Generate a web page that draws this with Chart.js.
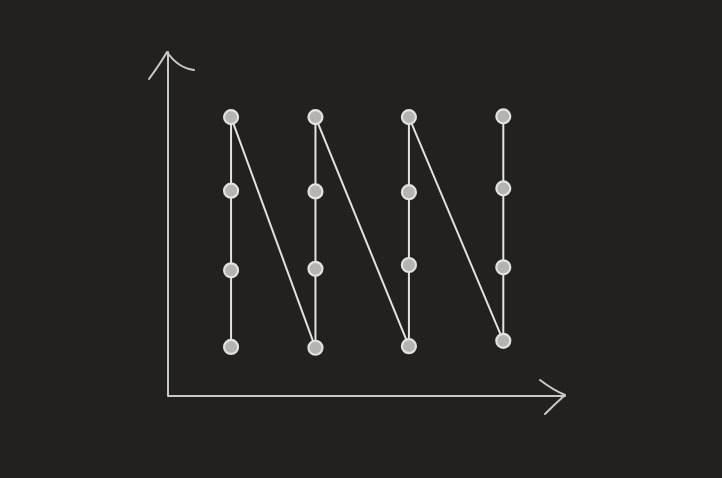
<!DOCTYPE html>
<html>
<head>
<meta charset="utf-8">
<script src="https://cdn.jsdelivr.net/npm/chart.js@4/dist/chart.umd.min.js"></script>
<style>
  html, body { margin: 0; padding: 0; background: #222120; }
  #wrap { width: 722px; height: 478px; }
</style>
</head>
<body>
<div id="wrap"><canvas id="c" width="722" height="478"></canvas></div>
<script>
// Column positions (x) and point values (y), path goes bottom->top in each column
const xValues = [1, 1, 1, 1, 1.93, 1.93, 1.93, 1.93, 2.96, 2.96, 2.96, 2.96, 4.0, 4.0, 4.0, 4.0];
const yValues = [1.00, 2.00, 3.04, 4.00, 0.99, 2.02, 3.03, 4.00, 1.01, 2.07, 3.02, 4.00, 1.08, 2.04, 3.07, 4.01];
const xRange = [0.305, 4.68];
const yRange = [0.36, 4.85];

const points = xValues.map((x, i) => ({ x: x, y: yValues[i] }));
const ink = '#e2e2de';

const axesPlugin = {
  id: 'sketchAxes',
  beforeDatasetsDraw(chart) {
    const { ctx, chartArea: a } = chart;
    ctx.save();
    ctx.strokeStyle = '#c9c9c6';
    ctx.lineWidth = 2;
    ctx.lineCap = 'round';
    ctx.lineJoin = 'round';
    ctx.beginPath();
    ctx.moveTo(a.left, a.top);
    ctx.lineTo(a.left, a.bottom);
    ctx.lineTo(a.right, a.bottom);
    ctx.stroke();
    // top arrow head
    ctx.beginPath();
    ctx.moveTo(a.left - 19, a.top + 27);
    ctx.quadraticCurveTo(a.left - 8, a.top + 12, a.left - 1, a.top);
    ctx.quadraticCurveTo(a.left + 10, a.top + 16, a.left + 26, a.top + 18);
    ctx.stroke();
    // right arrow head
    ctx.beginPath();
    ctx.moveTo(a.right - 25, a.bottom - 16);
    ctx.quadraticCurveTo(a.right - 12, a.bottom - 6, a.right, a.bottom - 1);
    ctx.quadraticCurveTo(a.right - 10, a.bottom + 8, a.right - 20, a.bottom + 18);
    ctx.stroke();
    ctx.restore();
  }
};

new Chart(document.getElementById('c'), {
  type: 'scatter',
  data: {
    datasets: [{
      data: points,
      showLine: true,
      borderColor: ink,
      borderWidth: 2,
      tension: 0,
      pointRadius: 7,
      pointHoverRadius: 7,
      pointBorderWidth: 2.2,
      pointBorderColor: ink,
      pointBackgroundColor: '#b4b4b0'
    }]
  },
  options: {
    responsive: false,
    animation: false,
    layout: { padding: { left: 168, top: 52, right: 157, bottom: 82 } },
    plugins: { legend: { display: false }, tooltip: { enabled: false } },
    scales: {
      x: { type: 'linear', min: xRange[0], max: xRange[1], display: false },
      y: { type: 'linear', min: yRange[0], max: yRange[1], display: false }
    }
  },
  plugins: [axesPlugin]
});
</script>
</body>
</html>
